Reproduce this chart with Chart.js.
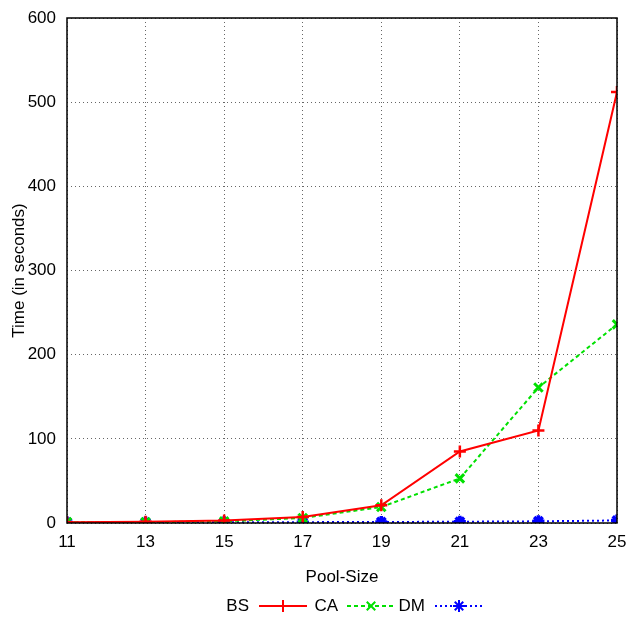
<!DOCTYPE html>
<html>
<head>
<meta charset="utf-8">
<script src="https://cdn.jsdelivr.net/npm/chart.js@4"></script>
<style>
  html, body { margin: 0; padding: 0; background: #fff; }
  #wrap { width: 627px; height: 618px; position: relative; }
</style>
</head>
<body>
<div id="wrap"><canvas id="time-chart"></canvas></div>
<script>
// pool sizes on the x axis
const poolSizes = [11, 13, 15, 17, 19, 21, 23, 25];

// time in seconds
const bsTimes = [1, 1.5, 3, 7, 21, 85, 110, 512];
const caTimes = [1, 1, 2, 6, 19, 53, 161, 236];
const dmTimes = [0.5, 0.7, 0.8, 1, 1.2, 1.5, 2, 3];

const seriesNames = ['BS', 'CA', 'DM'];

const FONT = 'Liberation Sans, Arial, Helvetica, sans-serif';

function toPoints(values) {
    return poolSizes.map((x, i) => ({ x: x, y: values[i] }));
}

// gnuplot style legend: label first, then line sample with marker
const bottomLegend = {
    id: 'bottomLegend',
    afterDraw(chart) {
        const ctx = chart.ctx;
        const y = 606;
        const samples = [
            { textRight: 249, x0: 259, x1: 307 },
            { textRight: 338, x0: 347, x1: 395 },
            { textRight: 425, x0: 435, x1: 483 }
        ];
        ctx.save();
        ctx.font = '17px ' + FONT;
        ctx.fillStyle = '#000';
        ctx.textAlign = 'right';
        ctx.textBaseline = 'middle';
        chart.data.datasets.forEach((ds, i) => {
            const s = samples[i];
            ctx.fillText(ds.label, s.textRight, y);
            ctx.strokeStyle = ds.borderColor;
            ctx.lineWidth = ds.borderWidth;
            ctx.setLineDash(ds.borderDash || []);
            ctx.beginPath();
            ctx.moveTo(s.x0, y);
            ctx.lineTo(s.x1, y);
            ctx.stroke();
            ctx.setLineDash([]);
            Chart.helpers.drawPoint(ctx, {
                pointStyle: ds.pointStyle,
                radius: ds.pointRadius,
                borderWidth: ds.pointBorderWidth || 2
            }, (s.x0 + s.x1) / 2, y);
        });
        ctx.restore();
    }
};

// solid black frame around the plot area
const frame = {
    id: 'frame',
    afterDatasetsDraw(chart) {
        const a = chart.chartArea;
        const ctx = chart.ctx;
        ctx.save();
        ctx.strokeStyle = '#000';
        ctx.lineWidth = 1.5;
        ctx.strokeRect(a.left, a.top, a.right - a.left, a.bottom - a.top);
        ctx.restore();
    }
};

new Chart(document.querySelector('#time-chart').getContext('2d'), {
    type: 'line',
    data: {
        datasets: [
            {
                label: seriesNames[0],
                data: toPoints(bsTimes),
                borderColor: '#ff0000',
                backgroundColor: '#ff0000',
                borderWidth: 2,
                pointStyle: 'cross',
                pointRadius: 6,
                pointBorderWidth: 2.5
            },
            {
                label: seriesNames[1],
                data: toPoints(caTimes),
                borderColor: '#00e000',
                backgroundColor: '#00e000',
                borderWidth: 2,
                borderDash: [4, 3],
                pointStyle: 'crossRot',
                pointRadius: 6,
                pointBorderWidth: 3
            },
            {
                label: seriesNames[2],
                data: toPoints(dmTimes),
                borderColor: '#0000ff',
                backgroundColor: '#0000ff',
                borderWidth: 2,
                borderDash: [2, 3],
                pointStyle: 'star',
                pointRadius: 6,
                pointBorderWidth: 3.5
            }
        ]
    },
    options: {
        responsive: true,
        maintainAspectRatio: false,
        animation: false,
        layout: { padding: { top: 18, right: 10, bottom: 30, left: 9 } },
        plugins: {
            legend: { display: false },
            tooltip: { enabled: false }
        },
        scales: {
            x: {
                type: 'linear',
                min: 11,
                max: 25,
                afterFit: s => { s.height = 65; s.paddingLeft = 0; s.paddingRight = 0; },
                ticks: { stepSize: 2, color: '#000', font: { family: FONT, size: 17 }, padding: 9, maxRotation: 0 },
                grid: { color: '#666', lineWidth: 1, tickLength: 0 },
                border: { display: false, dash: [1, 3] },
                title: { display: true, text: 'Pool-Size', color: '#000', font: { family: FONT, size: 17 }, padding: { top: 4, bottom: 0 } }
            },
            y: {
                min: 0,
                max: 600,
                afterFit: s => { s.width = 58; s.paddingTop = 0; s.paddingBottom = 0; },
                ticks: { stepSize: 100, color: '#000', font: { family: FONT, size: 17 }, padding: 11 },
                grid: { color: '#666', lineWidth: 1, tickLength: 0 },
                border: { display: false, dash: [1, 3] },
                title: { display: true, text: 'Time (in seconds)', color: '#000', font: { family: FONT, size: 17 }, padding: 0 }
            }
        }
    },
    plugins: [frame, bottomLegend]
});
</script>
</body>
</html>
